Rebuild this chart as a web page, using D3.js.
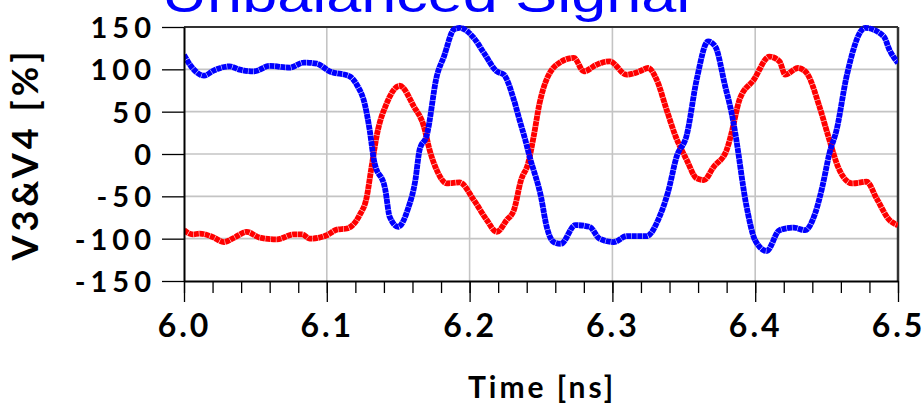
<!DOCTYPE html>
<html>
<head>
<meta charset="utf-8">
<script src="https://cdn.jsdelivr.net/npm/d3@7/dist/d3.min.js"></script>
<style>
  html, body { margin: 0; padding: 0; background: #fff; }
  svg { display: block; }
</style>
</head>
<body>
<div id="chart"></div>
<script>
// Differential pair waveforms, time in ns, amplitude in %
const v3Time = [6.000, 6.005, 6.014, 6.021, 6.032, 6.039, 6.049, 6.060, 6.074, 6.084, 6.093, 6.102, 6.116, 6.121, 6.127, 6.130, 6.133, 6.141, 6.144, 6.150, 6.157, 6.162, 6.165, 6.170, 6.177, 6.182, 6.189, 6.193, 6.203, 6.210, 6.219, 6.224, 6.231, 6.235, 6.239, 6.242, 6.250, 6.254, 6.259, 6.264, 6.274, 6.284, 6.291, 6.301, 6.310, 6.324, 6.333, 6.339, 6.345, 6.352, 6.359, 6.367, 6.372, 6.379, 6.384, 6.386, 6.394, 6.400, 6.408, 6.417, 6.427, 6.435, 6.442, 6.447, 6.452, 6.457, 6.464, 6.477, 6.490, 6.494, 6.500];
const v3Value = [117, 103.5, 92.5, 98.8, 103.5, 99.6, 97.6, 104, 102, 108, 106.7, 97.6, 91.7, 81.8, 56, 28.5, -7, -42.7, -74, -86, -64, -31, 5, 22, 91.7, 115, 147, 149, 137, 119.4, 97.6, 93.7, 64, 40, 16.6, -3, -50.6, -86, -104, -106, -84, -86, -100, -104, -97, -97, -74, -44.7, -3, 22, 87.7, 133, 127, 79.8, 44, 25, -62.5, -102, -114.6, -90, -87, -90, -70, -38.8, 0.8, 28.5, 91.7, 149, 139, 123, 107.5];

const v4Time = [6.000, 6.006, 6.011, 6.020, 6.028, 6.035, 6.044, 6.053, 6.065, 6.077, 6.083, 6.088, 6.100, 6.107, 6.114, 6.123, 6.128, 6.131, 6.135, 6.142, 6.151, 6.161, 6.168, 6.172, 6.177, 6.184, 6.193, 6.203, 6.212, 6.219, 6.226, 6.231, 6.236, 6.241, 6.245, 6.249, 6.261, 6.273, 6.280, 6.289, 6.298, 6.310, 6.319, 6.325, 6.331, 6.338, 6.344, 6.352, 6.359, 6.364, 6.371, 6.380, 6.383, 6.389, 6.399, 6.410, 6.417, 6.421, 6.430, 6.436, 6.445, 6.451, 6.459, 6.468, 6.478, 6.485, 6.494, 6.500];
const v4Value = [-90, -95, -94, -98, -104, -99, -92, -98.8, -100.8, -94.9, -95, -100, -96, -89.3, -88, -72, -50.6, -19, 22, 60, 80.6, 56, 32.4, 4.7, -19, -34.7, -33.5, -54.5, -78, -92, -78, -66.4, -30.8, -11, 22, 60, 105.5, 113.5, 97.6, 105.5, 109.5, 93.7, 97.6, 101.6, 87.7, 52, 22, -7, -28.8, -30.8, -15, 4.7, 22, 64, 87.7, 115, 109.5, 93.7, 101.6, 95.7, 56, 22, -19, -34.7, -32.8, -52.5, -78, -84];

const xTicks = [6.0, 6.1, 6.2, 6.3, 6.4, 6.5];
const xTickLabels = ["6.0", "6.1", "6.2", "6.3", "6.4", "6.5"];
const yTicks = [-150, -100, -50, 0, 50, 100, 150];
const yTickLabels = ["-150", "-100", "-50", "0", "50", "100", "150"];
const titleText = "Unbalanced Signal";
const xTitle = "Time [ns]";
const yTitle = "V3&V4 [%]";

const W = 924, H = 408;
const plot = { left: 184, right: 898, top: 27, bottom: 281 };

const svg = d3.select("#chart").append("svg")
  .attr("width", W).attr("height", H);

const x = d3.scaleLinear().domain([6.0, 6.5]).range([plot.left, plot.right]);
const y = d3.scaleLinear().domain([-150, 150]).range([plot.bottom, plot.top]);

// grid
const grid = svg.append("g").attr("stroke", "#c4c4c4").attr("stroke-width", 1.6);
grid.selectAll("line.gx").data(xTicks.slice(1, -1)).join("line")
  .attr("x1", d => x(d)).attr("x2", d => x(d))
  .attr("y1", plot.top).attr("y2", plot.bottom);
grid.selectAll("line.gy").data(yTicks.slice(1, -1)).join("line")
  .attr("x1", plot.left).attr("x2", plot.right)
  .attr("y1", d => y(d)).attr("y2", d => y(d));

// frame: top and right borders
svg.append("line").attr("x1", plot.left).attr("x2", plot.right)
  .attr("y1", plot.top).attr("y2", plot.top)
  .attr("stroke", "#333").attr("stroke-width", 2);
svg.append("line").attr("x1", plot.right).attr("x2", plot.right)
  .attr("y1", plot.top).attr("y2", plot.bottom)
  .attr("stroke", "#333").attr("stroke-width", 2.5);

// series
const line = d3.line()
  .x(d => x(d[0])).y(d => y(d[1]))
  .curve(d3.curveMonotoneX);

const series = [
  { t: v4Time, v: v4Value, color: "#ff0000" },
  { t: v3Time, v: v3Value, color: "#0000ff" }
];
svg.append("clipPath").attr("id", "plotclip").append("rect")
  .attr("x", plot.left).attr("y", plot.top - 4)
  .attr("width", plot.right - plot.left).attr("height", plot.bottom - plot.top + 4);

series.forEach(s => {
  svg.append("path")
    .datum(s.t.map((t, i) => [t, s.v[i]]))
    .attr("clip-path", "url(#plotclip)")
    .attr("fill", "none")
    .attr("stroke", s.color)
    .attr("stroke-width", 5.8)
    .attr("stroke-dasharray", "5 0.5")
    .attr("stroke-linejoin", "round")
    .attr("d", line);
});

// axes
const fontFam = "Lato, 'Open Sans', sans-serif";

const xMinor = d3.range(0, 26).map(i => 6.0 + i * 0.02);
const xAxisMinor = d3.axisBottom(x).tickValues(xMinor).tickSize(12).tickFormat("");
const gxm = svg.append("g").attr("transform", `translate(0,${plot.bottom})`).call(xAxisMinor);
gxm.select(".domain").remove();
gxm.selectAll(".tick line").attr("stroke", "#000").attr("stroke-width", 1.3);

const xAxis = d3.axisBottom(x).tickValues(xTicks).tickSize(21)
  .tickFormat((d, i) => xTickLabels[i]).tickSizeOuter(0);
const gx = svg.append("g").attr("transform", `translate(0,${plot.bottom})`).call(xAxis);
gx.select(".domain").attr("stroke", "#000").attr("stroke-width", 2);
gx.selectAll(".tick line").attr("stroke", "#000").attr("stroke-width", 1.3);
gx.selectAll(".tick text")
  .attr("y", 56).attr("dy", 0)
  .attr("fill", "#000")
  .style("font-family", fontFam).style("font-weight", "bold")
  .style("font-size", "32px").style("letter-spacing", "3px");

const yAxis = d3.axisLeft(y).tickValues(yTicks).tickSize(22).tickSizeOuter(0)
  .tickFormat((d, i) => yTickLabels[i]);
const gy = svg.append("g").attr("transform", `translate(${plot.left},0)`).call(yAxis);
gy.select(".domain").attr("stroke", "#000").attr("stroke-width", 2);
gy.selectAll(".tick line").attr("stroke", "#000").attr("stroke-width", 1.3);
gy.selectAll(".tick text")
  .attr("x", -28).attr("dy", "0.36em")
  .attr("fill", "#000")
  .style("font-family", fontFam).style("font-weight", "bold")
  .style("font-size", "29px").style("letter-spacing", "5px");

// titles
svg.append("text")
  .attr("transform", "translate(426,12) scale(1,0.8)")
  .attr("text-anchor", "middle")
  .attr("fill", "#0000ff")
  .style("font-family", "'Liberation Sans', Arial, sans-serif")
  .style("font-size", "63px")
  .text(titleText);

svg.append("text")
  .attr("x", 542).attr("y", 398)
  .attr("text-anchor", "middle")
  .attr("fill", "#000")
  .style("font-family", fontFam).style("font-weight", "bold")
  .style("font-size", "30px").style("letter-spacing", "3px")
  .text(xTitle);

svg.append("text")
  .attr("transform", "translate(38,154) rotate(-90)")
  .attr("text-anchor", "middle")
  .attr("fill", "#000")
  .style("font-family", fontFam).style("font-weight", "bold")
  .style("font-size", "36px").style("letter-spacing", "4px")
  .text(yTitle);
</script>
</body>
</html>
